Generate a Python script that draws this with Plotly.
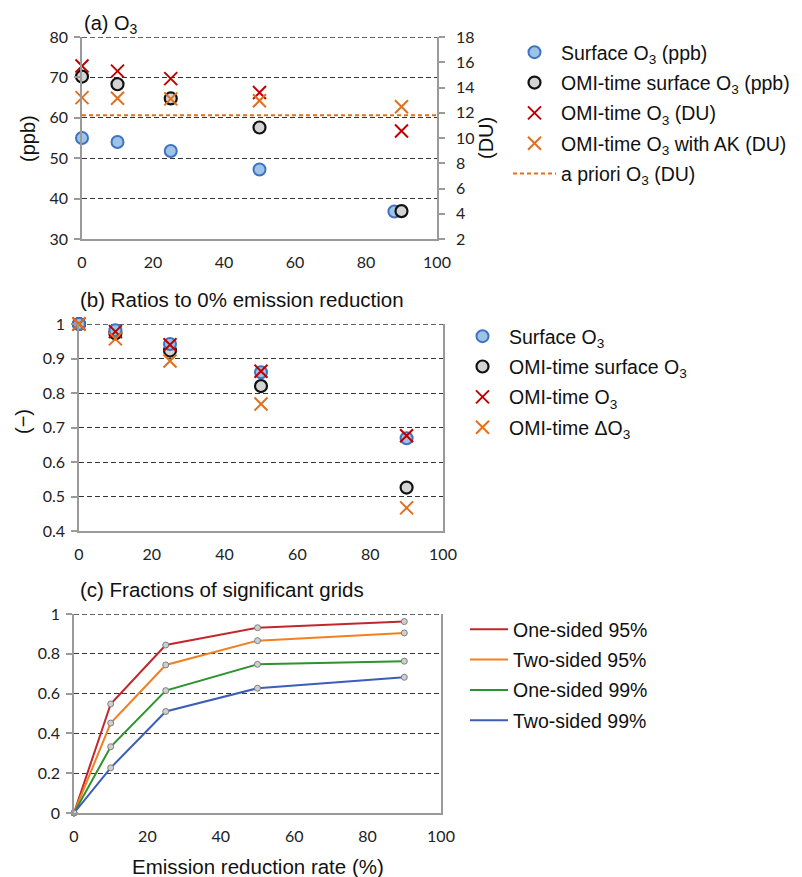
import plotly.graph_objects as go

W, H = 802, 877

# ---------------- data ----------------
reduction = [0, 10, 25, 50, 90]
reduction_surface_a = [0, 10, 25, 50, 88]

surface_o3_ppb = [55.0, 54.0, 51.8, 47.2, 36.8]
omi_surface_o3_ppb = [70.2, 68.3, 64.8, 57.6, 36.9]
omi_o3_du = [15.7, 15.3, 14.7, 13.6, 10.55]
omi_o3_ak_du = [13.2, 13.15, 13.1, 12.95, 12.48]
apriori_o3_du = [11.8, 11.8]
apriori_x = [0, 100]

ratio_surface = [1.0, 0.982, 0.942, 0.86, 0.669]
ratio_omi_surface = [1.0, 0.973, 0.923, 0.82, 0.526]
ratio_omi_o3 = [1.0, 0.978, 0.94, 0.863, 0.676]
ratio_omi_delta = [1.0, 0.957, 0.893, 0.768, 0.467]

frac_names = ["One-sided 95%", "Two-sided 95%", "One-sided 99%", "Two-sided 99%"]
frac_one95 = [0, 0.548, 0.844, 0.931, 0.962]
frac_two95 = [0, 0.452, 0.744, 0.866, 0.905]
frac_one99 = [0, 0.333, 0.615, 0.747, 0.763]
frac_two99 = [0, 0.227, 0.510, 0.627, 0.682]

# ---------------- styles ----------------
BLUE_FILL, BLUE_LINE = "#9DC3E6", "#3F72C0"
GRAY_FILL = "#D4D4D4"
RED = "#C00000"
ORANGE = "#E0701E"
AXIS = "#9A9A9A"
TXT = "Liberation Sans, Arial, sans-serif"
TICKF = dict(family="Lato, sans-serif", size=16, color="#222")
LEGF = dict(family=TXT, size=19.5, color="#111")
FRAC_COLORS = ["#C0282D", "#F28022", "#2E922E", "#3D5DB8"]


def px_x(p):
    return p / W


def px_y(p):
    return 1 - p / H


circ_blue = dict(symbol="circle", size=12, color=BLUE_FILL, line=dict(color=BLUE_LINE, width=2))
circ_gray = dict(symbol="circle", size=12, color=GRAY_FILL, line=dict(color="#111", width=2.2))
x_red = dict(symbol="x-thin", size=13, color=RED, line=dict(color=RED, width=2))
x_or = dict(symbol="x-thin", size=13, color=ORANGE, line=dict(color=ORANGE, width=2))

fig = go.Figure()

# ---- panel (a)
fig.add_trace(go.Scatter(x=reduction_surface_a, y=surface_o3_ppb, mode="markers", marker=circ_blue,
                         name="Surface O<sub>3</sub> (ppb)", xaxis="x", yaxis="y", legend="legend",
                         legendgroup="a1", cliponaxis=False))
fig.add_trace(go.Scatter(x=reduction, y=omi_surface_o3_ppb, mode="markers", marker=circ_gray,
                         name="OMI-time surface O<sub>3</sub> (ppb)", xaxis="x", yaxis="y", legend="legend",
                         legendgroup="a2", cliponaxis=False))
fig.add_trace(go.Scatter(x=reduction, y=omi_o3_du, mode="markers", marker=x_red,
                         name="OMI-time O<sub>3</sub> (DU)", xaxis="x", yaxis="y2", legend="legend",
                         legendgroup="a3", cliponaxis=False))
fig.add_trace(go.Scatter(x=reduction, y=omi_o3_ak_du, mode="markers", marker=x_or,
                         name="OMI-time O<sub>3</sub> with AK (DU)", xaxis="x", yaxis="y2", legend="legend",
                         legendgroup="a4", cliponaxis=False))
fig.add_trace(go.Scatter(x=apriori_x, y=apriori_o3_du, mode="lines", line=dict(color=ORANGE, width=2, dash="4px,3px"),
                         name="a priori O<sub>3</sub> (DU)", xaxis="x", yaxis="y2", legend="legend",
                         legendgroup="a5"))

# ---- panel (b)
fig.add_trace(go.Scatter(x=reduction, y=ratio_omi_surface, mode="markers", marker=circ_gray,
                         name="OMI-time surface O<sub>3</sub>", xaxis="x2", yaxis="y3", legend="legend2",
                         legendrank=2, legendgroup="b2", cliponaxis=False))
fig.add_trace(go.Scatter(x=reduction, y=ratio_surface, mode="markers", marker=circ_blue,
                         name="Surface O<sub>3</sub>", xaxis="x2", yaxis="y3", legend="legend2",
                         legendrank=1, legendgroup="b1", cliponaxis=False))
fig.add_trace(go.Scatter(x=reduction, y=ratio_omi_o3, mode="markers", marker=x_red,
                         name="OMI-time O<sub>3</sub>", xaxis="x2", yaxis="y3", legend="legend2",
                         legendrank=3, legendgroup="b3", cliponaxis=False))
fig.add_trace(go.Scatter(x=reduction, y=ratio_omi_delta, mode="markers", marker=x_or,
                         name="OMI-time ΔO<sub>3</sub>", xaxis="x2", yaxis="y3", legend="legend2",
                         legendrank=4, legendgroup="b4", cliponaxis=False))

# ---- panel (c)
small = dict(symbol="circle", size=6, color="#CFCFCF", line=dict(color="#7F7F7F", width=1))
for name, vals, col in zip(frac_names, [frac_one95, frac_two95, frac_one99, frac_two99], FRAC_COLORS):
    fig.add_trace(go.Scatter(x=reduction, y=vals, mode="lines+markers", line=dict(color=col, width=2),
                             marker=small, name=name, xaxis="x3", yaxis="y4", showlegend=False,
                             cliponaxis=False))
for i, (name, col) in enumerate(zip(frac_names, FRAC_COLORS)):
    # legend entries (line only, as in the reference legend)
    fig.add_trace(go.Scatter(x=[None], y=[None], mode="lines", line=dict(color=col, width=2),
                             name=name, xaxis="x3", yaxis="y4", legend="legend3", legendgroup=f"c{i}"))

grid = dict(showgrid=True, gridcolor="#333", gridwidth=1.3, griddash="5px,3px", zeroline=False)
xcommon = dict(range=[0, 100], tickvals=[0, 20, 40, 60, 80, 100], showline=True, linecolor=AXIS,
               linewidth=1.5, showgrid=False, zeroline=False, ticks="", tickfont=TICKF,
               ticklabelstandoff=8)
ycommon = dict(showline=True, linecolor=AXIS, linewidth=1.5, ticks="outside", ticklen=6,
               tickcolor=AXIS, tickwidth=1.5, tickfont=TICKF, ticklabelstandoff=3, **grid)

legcommon = dict(xanchor="left", yanchor="top", bgcolor="rgba(0,0,0,0)", font=LEGF, tracegroupgap=2)

fig.update_layout(
    width=W, height=H, margin=dict(l=0, r=0, t=0, b=0, pad=0, autoexpand=False),
    paper_bgcolor="white", plot_bgcolor="white",
    showlegend=True,
    xaxis=dict(domain=[px_x(82), px_x(437)], anchor="y", **xcommon),
    yaxis=dict(domain=[px_y(239), px_y(37)], range=[30, 80], dtick=10, **ycommon),
    yaxis2=dict(overlaying="y", side="right", anchor="x", range=[2, 18], dtick=2, showline=True,
                linecolor=AXIS, linewidth=1.5, ticks="outside", ticklen=6, tickcolor=AXIS, tickwidth=1.5,
                tickfont=TICKF, ticklabelstandoff=8, showgrid=False, zeroline=False),
    xaxis2=dict(domain=[px_x(79), px_x(443)], anchor="y3", **xcommon),
    yaxis3=dict(domain=[px_y(531), px_y(324)], range=[0.4, 1.0], dtick=0.1, anchor="x2", mirror=True, **ycommon),
    xaxis3=dict(domain=[px_x(74), px_x(441)], anchor="y4", **xcommon),
    yaxis4=dict(domain=[px_y(813), px_y(614)], range=[0, 1], dtick=0.2, anchor="x3", mirror=True, **ycommon),
    legend=dict(x=px_x(508), y=px_y(33), itemwidth=43, **legcommon),
    legend2=dict(x=px_x(456), y=px_y(317), itemwidth=43, **legcommon),
    legend3=dict(x=px_x(465), y=px_y(610), itemwidth=38, **legcommon),
)

# dashed top gridline (range maximum) for each panel
for xr, yr, yv in [("x", "y", 80), ("x2", "y3", 1.0), ("x3", "y4", 1.0)]:
    fig.add_shape(type="line", xref=f"{xr} domain", yref=yr, x0=0, x1=1, y0=yv, y1=yv,
                  line=dict(color="#333", width=1.3, dash="5px,3px"), layer="below")

ann = [
    dict(text="(a) O<sub>3</sub>", x=px_x(82), y=px_y(25), xanchor="left", yanchor="middle", font=dict(size=20)),
    dict(text="(b) Ratios to 0% emission reduction", x=px_x(78), y=px_y(299), xanchor="left", yanchor="middle", font=dict(size=20.5)),
    dict(text="(c) Fractions of significant grids", x=px_x(78), y=px_y(589), xanchor="left", yanchor="middle", font=dict(size=20.5)),
    dict(text="Emission reduction rate (%)", x=px_x(258), y=px_y(866), xanchor="center", yanchor="middle", font=dict(size=20.5)),
    dict(text="(ppb)", x=px_x(28), y=px_y(138), xanchor="center", yanchor="middle", textangle=-90, font=dict(size=20)),
    dict(text="(DU)", x=px_x(486), y=px_y(138), xanchor="center", yanchor="middle", textangle=-90, font=dict(size=20)),
    dict(text="(−)", x=px_x(23), y=px_y(422), xanchor="center", yanchor="middle", textangle=-90, font=dict(size=20)),
]
for a in ann:
    a.update(xref="paper", yref="paper", showarrow=False)
    a["font"] = dict(family=TXT, color="#111", **a["font"])
fig.update_layout(annotations=ann)

fig.write_html("out.html", config={"displayModeBar": False},
               post_script="document.body.style.margin='0';")
